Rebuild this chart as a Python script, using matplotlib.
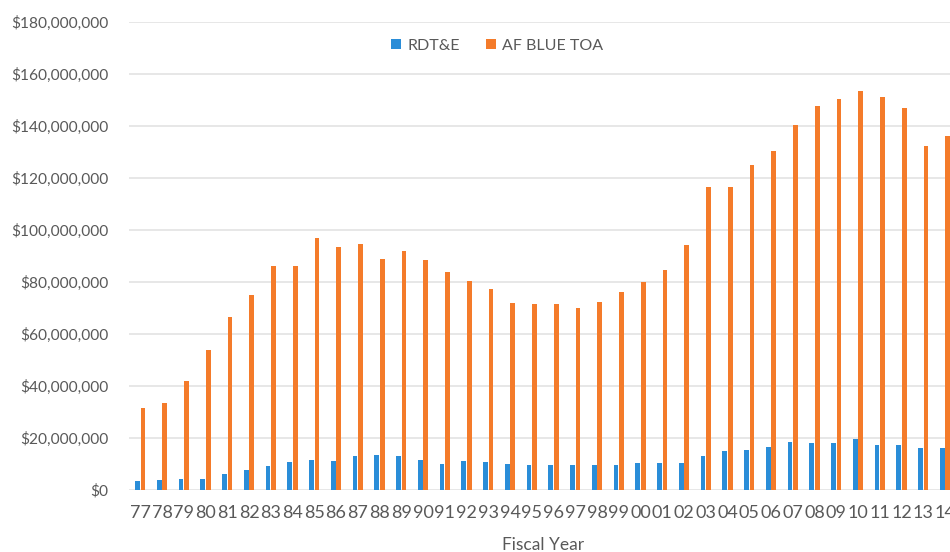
import numpy as np
import matplotlib
matplotlib.use('Agg')
import matplotlib.pyplot as plt
from matplotlib.ticker import FuncFormatter

# fiscal years 1977-2014
years = ["77", "78", "79", "80", "81", "82", "83", "84", "85", "86",
         "87", "88", "89", "90", "91", "92", "93", "94", "95", "96",
         "97", "98", "99", "00", "01", "02", "03", "04", "05", "06",
         "07", "08", "09", "10", "11", "12", "13", "14"]

# millions of dollars
rdte = [3.5, 3.8, 4.4, 4.4, 6.2, 7.7, 9.2, 10.6, 11.5, 11.2,
        13.0, 13.3, 13.0, 11.5, 9.9, 11.2, 10.8, 10.0, 9.5, 9.5,
        9.5, 9.5, 9.5, 10.3, 10.3, 10.3, 13.0, 14.9, 15.3, 16.4,
        18.6, 18.2, 18.2, 19.6, 17.4, 17.4, 16.0, 16.0]
blue_toa = [31.5, 33.5, 42.0, 54.0, 66.5, 75.0, 86.0, 86.0, 97.0, 93.5,
            94.5, 89.0, 92.0, 88.5, 84.0, 80.5, 77.5, 72.0, 71.5, 71.5,
            70.0, 72.5, 76.0, 80.0, 84.5, 94.2, 116.5, 116.5, 125.0, 130.5,
            140.3, 147.8, 150.5, 153.6, 151.3, 146.8, 132.3, 136.0]

blue = "#2a8dd8"
orange = "#f47b2a"
grey = "#595959"
plt.rcParams['font.family'] = ['Lato', 'DejaVu Sans']

fig = plt.figure(figsize=(9.5, 5.52), dpi=100)
ax = fig.add_axes([0.1362, 0.1123, 0.870, 0.8478])

x = np.arange(len(years))
w = 0.22
ax.bar(x - 0.125, np.array(rdte) * 1e6, w, color=blue, label="RDT&E", zorder=3)
ax.bar(x + 0.125, np.array(blue_toa) * 1e6, w, color=orange, label="AF BLUE TOA", zorder=3)

ax.set_xlim(-0.5, len(years) - 0.5)
ax.set_ylim(0, 180e6)
ax.set_yticks(np.arange(0, 180e6 + 1, 20e6))
ax.yaxis.set_major_formatter(FuncFormatter(lambda v, p: "${:,.0f}".format(v)))
ax.set_xticks(x)
ax.set_xticklabels(years)

ax.grid(axis='y', color="#e3e3e3", linewidth=1.2, zorder=0)
for s in ax.spines.values():
    s.set_visible(False)
ax.tick_params(axis='both', length=0, colors=grey)
ax.tick_params(axis='y', labelsize=11.2, pad=15)
ax.tick_params(axis='x', labelsize=13, pad=11)

ax.set_xlabel("Fiscal Year", fontsize=12.5, color=grey, labelpad=11)

leg = ax.legend(loc='upper center', bbox_to_anchor=(0.445, 0.995), ncol=2, frameon=False,
                fontsize=11.5, handlelength=0.62, handleheight=0.62, handletextpad=0.4,
                columnspacing=1.6)
for t in leg.get_texts():
    t.set_color(grey)

plt.savefig("out.png", dpi=100)
plt.close()
